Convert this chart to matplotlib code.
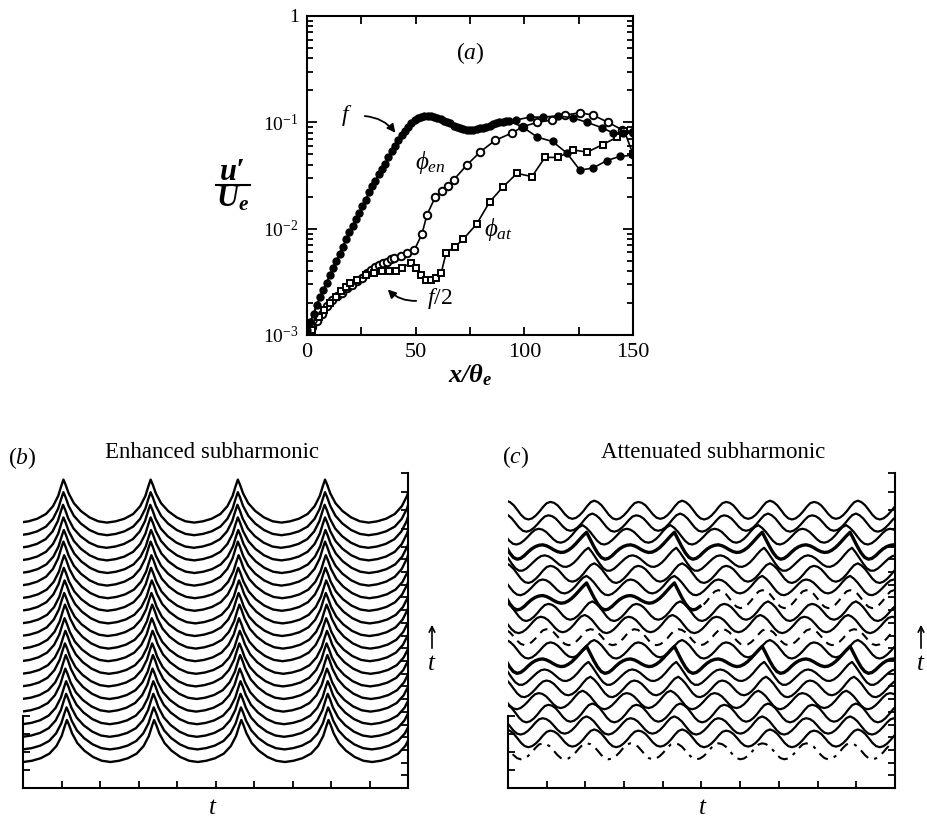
import numpy as np
import matplotlib.pyplot as plt
from matplotlib.patches import FancyArrowPatch
from matplotlib.lines import Line2D
from matplotlib.ticker import FixedLocator, FixedFormatter, NullFormatter

plt.rcParams['font.family'] = ['Liberation Serif', 'DejaVu Serif']
plt.rcParams['mathtext.fontset'] = 'custom'
plt.rcParams['mathtext.rm'] = 'Liberation Serif'
plt.rcParams['mathtext.it'] = 'Liberation Serif:italic'
plt.rcParams['mathtext.bf'] = 'Liberation Serif:italic:bold'

W, H = 928, 821

# ---- (a) u'/Ue along x/theta_e ----
# fundamental f, enhanced case (filled)
x_f_en = [0, 3, 6, 9, 12, 15, 18, 21, 24, 27, 30, 33, 36, 39, 42, 45, 48, 51, 54, 57,
          60, 63, 66, 69, 72, 75, 78, 81, 84, 87, 90, 93, 99, 106, 113, 119.6, 125.6,
          131.6, 138, 144, 150]
u_f_en = [0.00112, 0.00158, 0.00229, 0.00309, 0.00427, 0.00575, 0.00794, 0.0107, 0.0141,
          0.0186, 0.0251, 0.0324, 0.0407, 0.0537, 0.0676, 0.0832, 0.0977, 0.110, 0.115,
          0.115, 0.110, 0.102, 0.0977, 0.0912, 0.0871, 0.0851, 0.0871, 0.0891, 0.0933,
          0.0977, 0.100, 0.102, 0.0912, 0.0724, 0.0661, 0.0513, 0.0355, 0.0372, 0.0437,
          0.0479, 0.0490]
# fundamental f, attenuated case (filled)
x_f_at = [1.5, 4.5, 7.5, 10.5, 13.5, 16.5, 19.5, 22.5, 25.5, 28.5, 31.5, 34.5, 37.5, 40.5,
          43.5, 46.5, 49.5, 52.5, 55.5, 58.5, 61.5, 64.5, 67.5, 70.5, 73.5, 76.5, 79.5,
          82.5, 85.5, 88.5, 91.5, 96, 102.6, 108.6, 115.5, 122.4, 128.8, 135.7, 140.8,
          145.5, 150]
u_f_at = [0.00132, 0.00191, 0.00263, 0.00363, 0.00501, 0.00676, 0.00933, 0.0123, 0.0162,
          0.0219, 0.0282, 0.0363, 0.0468, 0.0603, 0.0759, 0.0912, 0.105, 0.112, 0.115,
          0.112, 0.107, 0.100, 0.0933, 0.0891, 0.0851, 0.0851, 0.0891, 0.0912, 0.0955,
          0.100, 0.102, 0.105, 0.112, 0.112, 0.115, 0.110, 0.100, 0.0891, 0.0794, 0.0794,
          0.0794]
# subharmonic f/2, phase phi_en (open circles)
x_en = [0, 2.4, 4.6, 7.0, 9.4, 11.6, 13.9, 16.2, 18.5, 20.8, 23.1, 25.4, 27.4, 29.4, 31.3,
        33.2, 35.0, 36.9, 38.5, 40.1, 43.2, 46.2, 49.4, 52.9, 55.2, 59.1, 62.2, 64.8, 67.5,
        73.6, 79.6, 86.5, 94.3, 99.4, 106, 112.7, 118.7, 125.6, 131.6, 138.5, 145, 150]
u_en = [0.00100, 0.00120, 0.00135, 0.00158, 0.00186, 0.00214, 0.00234, 0.00251, 0.00275,
        0.00295, 0.00324, 0.00347, 0.00380, 0.00407, 0.00437, 0.00457, 0.00479, 0.00490,
        0.00513, 0.00525, 0.00550, 0.00589, 0.00631, 0.00891, 0.0135, 0.0200, 0.0224,
        0.0251, 0.0288, 0.0398, 0.0525, 0.0676, 0.0794, 0.0912, 0.100, 0.105, 0.117,
        0.123, 0.117, 0.100, 0.0851, 0.0813]
# subharmonic f/2, phase phi_at (open squares)
x_at = [0, 2.5, 5.5, 8.0, 10.5, 13.2, 15.5, 17.8, 20.0, 23.1, 27.0, 30.9, 34.6, 37.8, 40.9,
        43.8, 47.8, 50.2, 52.5, 54.8, 57.2, 59.4, 61.7, 64.0, 68.0, 71.8, 78.0, 84.0, 90.0,
        96.6, 103.5, 109.5, 115.5, 122.4, 129.0, 136.0, 142.6, 146.0, 150.0]
u_at = [0.00100, 0.00112, 0.00148, 0.00170, 0.00200, 0.00229, 0.00257, 0.00282, 0.00309,
        0.00331, 0.00363, 0.00380, 0.00398, 0.00398, 0.00398, 0.00427, 0.00479, 0.00427,
        0.00363, 0.00331, 0.00331, 0.00347, 0.00380, 0.00589, 0.00676, 0.00794, 0.0110,
        0.0178, 0.0245, 0.0331, 0.0309, 0.0468, 0.0468, 0.0550, 0.0525, 0.0617, 0.0724,
        0.0832, 0.0501]

# ---- (b) enhanced subharmonic: one period of the trace, peak at phase 0 ----
phase_b = [-0.5, -0.4, -0.3, -0.2, -0.12, -0.06, -0.025, 0.0, 0.025, 0.06, 0.12, 0.2,
           0.3, 0.4]
shape_b = [0.0, 0.03, 0.09, 0.2, 0.38, 0.62, 0.85, 1.0, 0.88, 0.68, 0.45, 0.27, 0.12, 0.03]
amp_b = [42, 42, 43, 43, 43, 44, 43, 43, 43, 44, 43, 43, 43, 43, 44, 43, 43, 43, 43, 43]
shift_b = [0.009, 0.008, 0.007, 0.007, 0.005, 0.006, 0.004, 0.005, 0.003, 0.004, 0.002,
           0.003, 0.001, 0.002, 0.0, 0.001, 0.0, -0.001, 0.0, 0.0]
period_b = 0.2265
peak_b = 0.105

# ---- (c) attenuated subharmonic: one subharmonic period, 24 samples ----
plain_c = [1.0, 0.9, 0.6, 0.1, -0.45, -0.85, -1.0, -0.9, -0.6, -0.15, 0.4, 0.85,
           1.0, 0.9, 0.6, 0.1, -0.45, -0.85, -1.0, -0.9, -0.6, -0.15, 0.4, 0.85]
peaked_c = [1.8, 1.0, 0.2, -0.5, -1.0, -1.2, -1.1, -0.8, -0.4, -0.05, 0.2, 0.35,
            0.4, 0.3, 0.1, -0.15, -0.35, -0.45, -0.4, -0.2, 0.1, 0.5, 0.95, 1.4]
amp_c = [8, 8.5, 8.5, 9, 8.5, 9, 9, 9, 8.5, 8, 8.5, 9, 9, 8.5, 9, 9, 9, 8.5, 8.5, 9]
shift_c = [0.0, 0.02, 0.0, 0.015, -0.01, 0.01, 0.005, 0.0, 0.02, 0.01, -0.005, 0.015,
           0.0, 0.0, 0.02, 0.005, 0.0, -0.01, 0.015, 0.02]
weight_c = [0.0, 0.1, 0.15, 0.1, 0.2, 0.3, 0.6, 1.0, 0.2, 0.0, 0.15, 0.2, 1.0, 0.3, 0.2,
            0.6, 1.0, 0.3, 0.15, 0.1]
period_c = 0.227
peak_c = 0.203


def fpos(x, y):
    return x / W, 1 - y / H


def tile(first, period, phase, vals, shift):
    xs, ys = [], []
    for k in range(-2, 7):
        for p, v in zip(phase, vals):
            xs.append(first + shift + (k + p) * period)
            ys.append(v)
    return np.array(xs), np.array(ys)


fig = plt.figure(figsize=(W / 100, H / 100), dpi=100)

# ---------------- panel (a) ----------------
ax = fig.add_axes([307 / W, 1 - 335 / H, 326 / W, 319 / H])
ax.set_yscale('log')
ax.plot(x_en, u_en, '-', color='k', lw=1.2, marker='o', ms=5.4, mfc='white', mec='k', mew=1.4)
ax.plot(x_at, u_at, '-', color='k', lw=1.2, marker='s', ms=4.8, mfc='white', mec='k', mew=1.4)
ax.plot(x_f_at, u_f_at, '-', color='k', lw=1.2, marker='o', ms=5.0, mfc='k', mec='k')
ax.plot(x_f_en, u_f_en, '-', color='k', lw=1.2, marker='o', ms=5.0, mfc='k', mec='k')
ax.set_xlim(0, 150)
ax.set_ylim(1e-3, 1)
ax.xaxis.set_major_locator(FixedLocator([0, 50, 100, 150]))
ax.xaxis.set_minor_locator(FixedLocator([25, 75, 125]))
ax.yaxis.set_major_locator(FixedLocator([1e-3, 1e-2, 1e-1, 1]))
ax.yaxis.set_major_formatter(FixedFormatter([r'$10^{-3}$', r'$10^{-2}$', r'$10^{-1}$', '1']))
ax.yaxis.set_minor_locator(FixedLocator([m * 10.0 ** e for e in (-3, -2, -1) for m in range(2, 10)]))
ax.yaxis.set_minor_formatter(NullFormatter())
ax.tick_params(which='both', direction='in', top=True, right=True, width=1.3)
ax.tick_params(axis='x', which='both', length=6, labelsize=16, pad=6)
ax.tick_params(axis='y', which='major', length=7, labelsize=14, pad=6)
ax.tick_params(axis='y', which='minor', length=4)
for s in ax.spines.values():
    s.set_linewidth(1.5)

ax.text(0.5, 0.884, r'($a$)', transform=ax.transAxes, ha='center', va='center', fontsize=17)
ax.text(18.4, 0.117, r'$f$', ha='center', va='center', fontsize=17)
ax.annotate('', xy=(41.4, 0.076), xytext=(25.3, 0.115),
            arrowprops=dict(arrowstyle='-|>', color='k', lw=1.3, mutation_scale=12,
                            connectionstyle='arc3,rad=-0.25'))
ax.text(56.6, 0.042, r'$\phi_{en}$', ha='center', va='center', fontsize=18)
ax.text(87.9, 0.0098, r'$\phi_{at}$', ha='center', va='center', fontsize=18)
ax.text(61, 0.0022, r'$f$/2', ha='center', va='center', fontsize=17)
ax.annotate('', xy=(36.3, 0.0028), xytext=(51.5, 0.0021),
            arrowprops=dict(arrowstyle='-|>', color='k', lw=1.3, mutation_scale=12,
                            connectionstyle='arc3,rad=-0.25'))
ax.text(0.5, -0.085, r'$\mathbf{x/\theta_e}$', transform=ax.transAxes,
        ha='center', va='top', fontsize=19)

# u'/Ue written as a stacked fraction
fig.text(*fpos(233, 172), "u\u2032", ha='center', va='center', fontsize=22,
         fontstyle='italic', fontweight='bold')
fig.text(*fpos(233, 199), r'$\mathbf{U_e}$', ha='center', va='center', fontsize=22)
fig.add_artist(Line2D([216 / W, 250 / W], [1 - 185 / H, 1 - 185 / H], color='k', lw=1.5))

# ---------------- panels (b) and (c) ----------------
right_ticks = list(np.arange(20) * 12.7) + [259, 277.5, 296, 315]
left_ticks = [0, 18, 36, 54, 72]


def trace_axes(left_px, width_px):
    a = fig.add_axes([left_px / W, 1 - 788 / H, width_px / W, 315 / H])
    a.set_xlim(0, 1)
    a.set_ylim(0, 315)
    a.spines['top'].set_visible(False)
    a.spines['right'].set_visible(False)
    a.spines['left'].set_bounds(0, 72)
    a.spines['left'].set_linewidth(1.5)
    a.spines['bottom'].set_linewidth(1.5)
    a.set_xticks(np.linspace(0, 1, 11))
    a.set_yticks(left_ticks)
    a.tick_params(direction='in', length=5, width=1.3, labelbottom=False, labelleft=False)
    a2 = a.twinx()
    a2.set_ylim(0, 315)
    for side in ('top', 'left', 'bottom'):
        a2.spines[side].set_visible(False)
    a2.spines['right'].set_linewidth(1.5)
    a2.set_yticks(right_ticks)
    a2.tick_params(direction='in', length=5, width=1.3, labelright=False)
    return a


axb = trace_axes(23, 385)
for i in range(20):
    base = 26 + 12.6 * i
    xs, hs = tile(peak_b, period_b, phase_b, shape_b, shift_b[i])
    axb.plot(xs, base + amp_b[i] * hs, color='k', lw=1.7, solid_joinstyle='round')

axc = trace_axes(508, 387)
phase_c = np.arange(24) / 24
for i in range(20):
    mean = 36.7 + 12.68 * i
    w = weight_c[i]
    vals = [(1 - w) * p + w * q for p, q in zip(plain_c, peaked_c)]
    xs, hs = tile(peak_c, period_c, phase_c, vals, shift_c[i])
    ys = mean + amp_c[i] * hs
    lw = 2.4 if w >= 1.0 else 1.6
    if i == 0:
        axc.plot(xs, ys, color='k', lw=1.5, ls=(0, (5, 3, 1.5, 3)))
    elif i == 9:
        axc.plot(xs, ys, color='k', lw=1.5, ls=(0, (4, 3)))
    elif i == 12:
        m = xs <= 0.5
        axc.plot(xs[m], ys[m], color='k', lw=lw)
        xs2, hs2 = tile(peak_c, period_c, phase_c, plain_c, shift_c[i])
        m2 = xs2 >= 0.5
        axc.plot(xs2[m2], mean + amp_c[i] * hs2[m2], color='k', lw=1.5, ls=(0, (4, 3)))
    else:
        axc.plot(xs, ys, color='k', lw=lw)

# panel headings and time labels
fig.text(*fpos(22, 458), r'($b$)', ha='center', va='center', fontsize=17)
fig.text(*fpos(212, 452), 'Enhanced subharmonic', ha='center', va='center', fontsize=16.5)
fig.text(*fpos(516, 457), r'($c$)', ha='center', va='center', fontsize=17)
fig.text(*fpos(713, 452), 'Attenuated subharmonic', ha='center', va='center', fontsize=16.5)
fig.text(*fpos(213, 808), r'$t$', ha='center', va='center', fontsize=18)
fig.text(*fpos(703, 808), r'$t$', ha='center', va='center', fontsize=18)
for xp in (432, 921):
    fig.text(*fpos(xp, 664), r'$t$', ha='center', va='center', fontsize=18)
    fig.add_artist(FancyArrowPatch(fpos(xp, 651), fpos(xp, 622), transform=fig.transFigure,
                                   arrowstyle='->', mutation_scale=10, lw=1.2, color='k'))

fig.savefig('out.png', dpi=100)
